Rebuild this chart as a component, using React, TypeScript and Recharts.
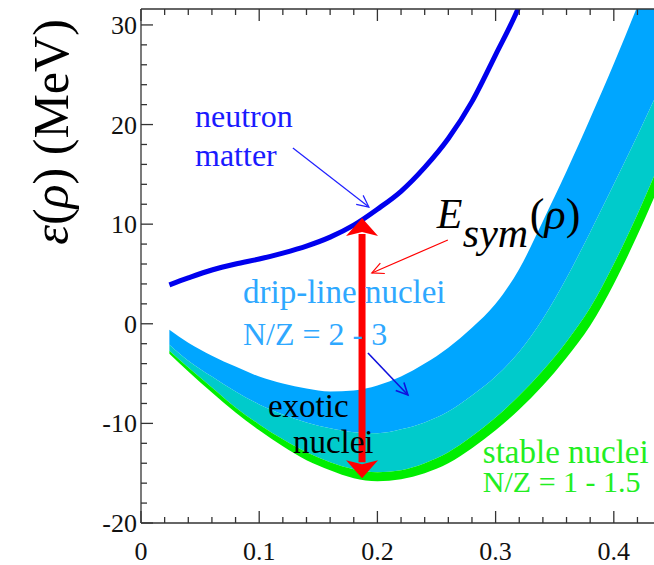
import React from 'react';
import { ComposedChart, Area, Line, XAxis, YAxis, ReferenceLine, ReferenceDot } from 'recharts';

const SERIF = "'Liberation Serif', 'DejaVu Serif', serif";
const AXIS = '#333';

// density grid (fm^-3)
const RHO = [0.024, 0.04, 0.06, 0.08, 0.1, 0.12, 0.14, 0.16, 0.18, 0.2, 0.22, 0.24, 0.26, 0.28, 0.3, 0.32, 0.34, 0.36, 0.38, 0.4, 0.42, 0.44];

// energy per nucleon (MeV)
const NEUTRON_MATTER = [3.9, 4.6, 5.4, 6.0, 6.5, 7.1, 7.8, 8.7, 9.9, 11.5, 13.3, 15.7, 18.6, 22.3, 27.0, 31.9, 38.5, null, null, null, null, null];
const DRIP_UPPER = [-0.6, -1.9, -3.2, -4.3, -5.3, -6.0, -6.5, -6.8, -6.7, -6.2, -5.3, -4.0, -2.4, -0.4, 2.0, 5.5, 10.3, 15.3, 20.6, 26.1, 31.9, 38.0];
const DRIP_LOWER = [-2.1, -3.7, -5.3, -6.8, -8.1, -9.1, -9.9, -10.5, -10.9, -11.0, -10.6, -9.9, -8.8, -7.2, -5.3, -2.8, 0.5, 4.6, 9.2, 14.0, 18.9, 24.0];
const EXOTIC_LOWER = [-2.7, -4.4, -6.4, -8.4, -10.1, -11.6, -12.9, -13.9, -14.6, -14.9, -14.7, -14.0, -12.9, -11.3, -9.4, -7.2, -4.7, -1.8, 1.6, 6.0, 11.0, 16.5];
const STABLE_LOWER = [-3.0, -4.8, -6.9, -8.9, -10.7, -12.3, -13.7, -14.7, -15.5, -15.8, -15.6, -15.0, -14.0, -12.5, -10.7, -8.6, -6.2, -3.4, -0.2, 4.0, 8.9, 14.3];

const X_TICKS = [0, 0.02, 0.04, 0.06, 0.08, 0.1, 0.12, 0.14, 0.16, 0.18, 0.2, 0.22, 0.24, 0.26, 0.28, 0.3, 0.32, 0.34, 0.36, 0.38, 0.4, 0.42];
const X_MAJOR = [0, 0.1, 0.2, 0.3, 0.4];
const Y_TICKS = [-20, -18, -16, -14, -12, -10, -8, -6, -4, -2, 0, 2, 4, 6, 8, 10, 12, 14, 16, 18, 20, 22, 24, 26, 28, 30];
const Y_MAJOR = [-20, -10, 0, 10, 20, 30];

const ESYM_RHO = 0.187;
const ESYM_TOP = 10.62;
const ESYM_BOTTOM = -15.5;

const rows = RHO.map((x, i) => ({
  x,
  neutron: NEUTRON_MATTER[i],
  drip: [DRIP_LOWER[i], DRIP_UPPER[i]],
  exotic: [EXOTIC_LOWER[i], DRIP_LOWER[i]],
  stable: [STABLE_LOWER[i], EXOTIC_LOWER[i]],
}));

const isMajor = (list: number[], v: number) => list.some((m) => Math.abs(m - v) < 1e-9);
const serif = { fontFamily: SERIF };

const BottomTick = (props: any) => {
  const { x, y, payload } = props;
  const major = isMajor(X_MAJOR, payload.value);
  return (
    <g>
      <line x1={x} y1={y} x2={x} y2={y - (major ? 12 : 6)} stroke={AXIS} strokeWidth={1.3} />
      {major && (
        <text x={x} y={y + 37} textAnchor="middle" style={serif} fontSize={26} fill="#111">
          {String(payload.value)}
        </text>
      )}
    </g>
  );
};

const TopTick = (props: any) => {
  const { x, y, payload } = props;
  const major = isMajor(X_MAJOR, payload.value);
  return <line x1={x} y1={y} x2={x} y2={y + (major ? 12 : 6)} stroke={AXIS} strokeWidth={1.3} />;
};

const LeftTick = (props: any) => {
  const { x, y, payload } = props;
  const major = isMajor(Y_MAJOR, payload.value);
  return (
    <g>
      <line x1={x} y1={y} x2={x + (major ? 12 : 6)} y2={y} stroke={AXIS} strokeWidth={1.3} />
      {major && (
        <text x={x - 4} y={y + 9} textAnchor="end" style={serif} fontSize={26} fill="#111">
          {String(payload.value)}
        </text>
      )}
    </g>
  );
};

const thinArrow = (color: string, w: number) => (p: any) => {
  const { x1, y1, x2, y2 } = p;
  const a = Math.atan2(y2 - y1, x2 - x1);
  const head = 13;
  const hx1 = x2 - head * Math.cos(a - 0.45);
  const hy1 = y2 - head * Math.sin(a - 0.45);
  const hx2 = x2 - head * Math.cos(a + 0.45);
  const hy2 = y2 - head * Math.sin(a + 0.45);
  return (
    <g>
      <line x1={x1} y1={y1} x2={x2} y2={y2} stroke={color} strokeWidth={w} />
      <polyline points={`${hx1},${hy1} ${x2},${y2} ${hx2},${hy2}`} fill="none" stroke={color} strokeWidth={w} />
    </g>
  );
};

const doubleArrow = (p: any) => {
  const { x1, y1, y2 } = p;
  const top = Math.min(y1, y2);
  const bottom = Math.max(y1, y2);
  const hl = 18;
  const hw = 16;
  return (
    <g>
      <line x1={x1} y1={top + hl - 2} x2={x1} y2={bottom - hl + 2} stroke="#ff0000" strokeWidth={7} />
      <polygon points={`${x1},${top} ${x1 - hw},${top + hl} ${x1},${top + hl - 4} ${x1 + hw},${top + hl}`} fill="#ff0000" />
      <polygon points={`${x1},${bottom} ${x1 - hw},${bottom - hl} ${x1},${bottom - hl + 4} ${x1 + hw},${bottom - hl}`} fill="#ff0000" />
    </g>
  );
};

const textAt = (content: React.ReactNode, color: string, size = 32) => (p: any) => (
  <text x={p.cx} y={p.cy} style={serif} fontSize={size} fill={color}>
    {content}
  </text>
);

const esymLabel = (p: any) => (
  <g style={serif} fill="#000">
    <text x={p.cx} y={p.cy} style={serif} fontSize={42} fontStyle="italic">E</text>
    <text x={p.cx + 26} y={p.cy + 19} style={serif} fontSize={42} fontStyle="italic">sym</text>
    <text x={p.cx + 93} y={p.cy + 1} style={serif} fontSize={44}>
      (<tspan fontStyle="italic">ρ</tspan>)
    </text>
  </g>
);

const yTitle = () => (
  <text transform="translate(68,132) rotate(-90)" textAnchor="middle" style={serif} fontSize={50} fill="#000">
    <tspan fontStyle="italic">ε</tspan>(<tspan fontStyle="italic">ρ</tspan>) (MeV)
  </text>
);

const NEUTRON_TXT = '#1a1aff';
const DRIP_TXT = '#2ea8ff';
const STABLE_TXT = '#22ee22';

export default function App() {
  return (
    <div style={{ position: 'absolute', left: 0, top: 0, width: 654, height: 565, background: '#fff', fontFamily: SERIF }}>
      <ComposedChart width={654} height={565} data={rows} margin={{ top: 8, right: 0, bottom: 0, left: 0 }}>
        <XAxis
          dataKey="x"
          type="number"
          domain={[0, 0.434]}
          ticks={X_TICKS}
          interval={0}
          allowDataOverflow
          height={42}
          tickSize={0}
          tickMargin={0}
          tickLine={false}
          tick={<BottomTick />}
          axisLine={{ stroke: AXIS, strokeWidth: 1.3 }}
        />
        <XAxis
          xAxisId="top"
          dataKey="x"
          type="number"
          orientation="top"
          domain={[0, 0.434]}
          ticks={X_TICKS}
          interval={0}
          allowDataOverflow
          height={1}
          tickSize={0}
          tickMargin={0}
          tickLine={false}
          tick={<TopTick />}
          axisLine={{ stroke: AXIS, strokeWidth: 1.3 }}
        />
        <YAxis
          type="number"
          domain={[-20, 31.6]}
          ticks={Y_TICKS}
          interval={0}
          allowDataOverflow
          width={141}
          tickSize={0}
          tickMargin={0}
          tickLine={false}
          tick={<LeftTick />}
          axisLine={{ stroke: AXIS, strokeWidth: 1.3 }}
          label={{ content: yTitle }}
        />
        <Area dataKey="drip" type="monotone" stroke="none" fill="#00a6ff" fillOpacity={1} isAnimationActive={false} />
        <Area dataKey="exotic" type="monotone" stroke="none" fill="#00cbcb" fillOpacity={1} isAnimationActive={false} />
        <Area dataKey="stable" type="monotone" stroke="none" fill="#00ee00" fillOpacity={1} isAnimationActive={false} />
        <Line dataKey="neutron" type="monotone" stroke="#0000ee" strokeWidth={5} dot={false} isAnimationActive={false} />

        <ReferenceDot x={0.0457} y={19.75} shape={textAt('neutron', NEUTRON_TXT)} />
        <ReferenceDot x={0.0457} y={15.84} shape={textAt('matter', NEUTRON_TXT)} />
        <ReferenceDot x={0.0863} y={2.09} shape={textAt('drip-line nuclei', DRIP_TXT, 33)} />
        <ReferenceDot x={0.0863} y={-2.13} shape={textAt('N/Z = 2 - 3', DRIP_TXT)} />
        <ReferenceDot x={0.1074} y={-9.36} shape={textAt('exotic', '#000', 33)} />
        <ReferenceDot x={0.1285} y={-12.97} shape={textAt('nuclei', '#000', 33)} />
        <ReferenceDot x={0.2892} y={-13.98} shape={textAt('stable nuclei', STABLE_TXT, 33)} />
        <ReferenceDot x={0.2892} y={-16.89} shape={textAt('N/Z = 1 - 1.5', STABLE_TXT, 30)} />
        <ReferenceDot x={0.2503} y={9.61} shape={esymLabel} />

        <ReferenceLine segment={[{ x: 0.1285, y: 17.65 }, { x: 0.1928, y: 11.72 }]} shape={thinArrow('#2020ff', 1.2)} />
        <ReferenceLine segment={[{ x: 0.2596, y: 8.41 }, { x: 0.1953, y: 5.1 }]} shape={thinArrow('#ff0000', 1.2)} />
        <ReferenceLine segment={[{ x: 0.192, y: -2.93 }, { x: 0.2258, y: -7.15 }]} shape={thinArrow('#1010dd', 1.6)} />
        <ReferenceLine segment={[{ x: ESYM_RHO, y: ESYM_BOTTOM }, { x: ESYM_RHO, y: ESYM_TOP }]} shape={doubleArrow} />
      </ComposedChart>
    </div>
  );
}
